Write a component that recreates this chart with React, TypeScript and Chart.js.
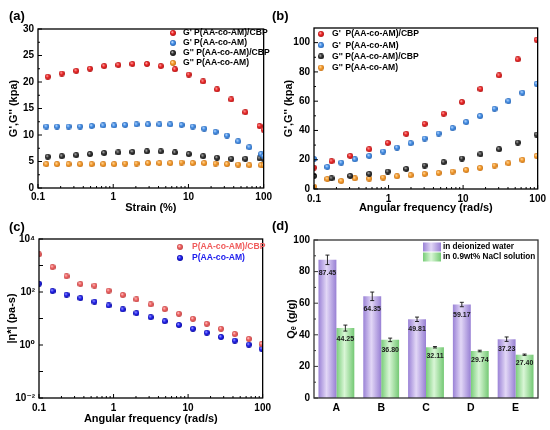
import React, { useEffect, useRef } from 'react';
import { Chart, registerables } from 'chart.js';
Chart.register(...registerables);

// ---------------- data ----------------
// (a) strain sweep
const strainA1 = [0.135, 0.207, 0.322, 0.491, 0.758, 1.17, 1.8, 2.81, 4.29, 6.62, 10.1, 15.7, 24.0, 37.1, 57.1, 88.1, 100];
const gpCbpA = [21.0, 21.6, 22.1, 22.5, 23.0, 23.2, 23.4, 23.4, 23.0, 22.4, 21.4, 20.1, 18.6, 16.7, 14.3, 11.7, 11.0];
const gppCbpA = [5.9, 6.0, 6.2, 6.4, 6.6, 6.7, 6.8, 6.9, 6.9, 6.7, 6.4, 6.0, 5.7, 5.5, 5.5, 5.6, 5.5];
const strainA2 = [0.129, 0.179, 0.255, 0.363, 0.517, 0.736, 1.03, 1.44, 2.04, 2.9, 4.12, 5.74, 8.09, 11.4, 16.2, 22.9, 32.5, 45.8, 64.5, 92.7, 100];
const gpA = [11.6, 11.6, 11.6, 11.6, 11.7, 11.8, 11.8, 11.9, 12.0, 12.0, 12.0, 12.0, 11.9, 11.6, 11.2, 10.6, 9.9, 8.8, 7.7, 6.4, 6.0];
const gppA = [4.5, 4.5, 4.5, 4.5, 4.5, 4.5, 4.5, 4.6, 4.6, 4.7, 4.7, 4.7, 4.8, 4.7, 4.7, 4.6, 4.5, 4.4, 4.3, 4.3, 4.3];

// (b) frequency sweep
const freqB1 = [0.1, 0.172, 0.306, 0.55, 0.977, 1.73, 3.05, 5.48, 9.64, 17.1, 30.4, 54.1, 97];
const gpCbpB = [14.6, 19.0, 22.6, 27.2, 31.5, 37.7, 44.5, 51.4, 59.4, 68.3, 77.6, 88.6, 102];
const gppCbpB = [8.9, 7.3, 8.9, 10.3, 11.9, 13.7, 16.0, 18.3, 20.8, 23.7, 27.2, 31.7, 37.2];
const freqB2 = [0.1, 0.151, 0.232, 0.353, 0.55, 0.846, 1.3, 1.98, 3.05, 4.7, 7.23, 11.0, 16.9, 26.4, 40.5, 62.4, 97];
const gpB = [20.5, 15.1, 18.0, 20.3, 22.6, 25.6, 28.3, 31.3, 34.5, 37.9, 41.6, 45.7, 49.8, 54.8, 60.0, 65.8, 71.9];
const gppB = [1.6, 6.8, 5.5, 7.3, 7.1, 7.8, 8.7, 9.4, 10.3, 11.0, 11.9, 13.0, 14.4, 16.0, 17.6, 19.9, 22.6];

// (c) complex viscosity
const freqC = [0.1, 0.152, 0.234, 0.359, 0.555, 0.859, 1.33, 2.03, 3.15, 4.87, 7.53, 11.6, 17.8, 27.6, 42.3, 65.3, 97];
const etaCbp = [2630, 870, 392, 200, 174, 112, 77, 52.5, 34, 22.5, 15, 9.7, 6.3, 4.1, 2.6, 1.7, 1.09];
const etaPlain = [207, 109, 79, 59, 43, 31, 22, 15.9, 11.2, 7.9, 5.7, 4.1, 2.9, 2.0, 1.46, 1.03, 0.72];

// (d) swelling ratio
const samples = ['A', 'B', 'C', 'D', 'E'];
const qWater = [87.45, 64.35, 49.81, 59.17, 37.23];
const qNacl = [44.25, 36.8, 32.11, 29.74, 27.4];
const errWater = [3.0, 2.7, 1.4, 1.4, 1.4];
const errNacl = [1.9, 1.1, 0.45, 0.5, 0.4];

// tick labels
const logXTickLabels = ['0.1', '1', '10', '100'];
const logYDecades = [-2, -1, 0, 1, 2, 3, 4];

// ---------------- helpers ----------------
const FONT = '"Liberation Sans", Arial, Helvetica, "DejaVu Sans", sans-serif';
const tickFont = { family: FONT, size: 10, weight: 'bold' as const };
const titleFont = { family: FONT, size: 11, weight: 'bold' as const, lineHeight: 1.2 };

const SUP: Record<string, string> = { '-': '\u207B', '0': '\u2070', '1': '\u00B9', '2': '\u00B2', '3': '\u00B3', '4': '\u2074', '5': '\u2075', '6': '\u2076', '7': '\u2077', '8': '\u2078', '9': '\u2079' };
const sup = (n: number) => String(n).split('').map((ch) => SUP[ch] || ch).join('');

const zip = (xs: number[], ys: number[]) => xs.map((x, i) => ({ x, y: ys[i] }));

function logTickValues() {
  const vals: number[] = [];
  for (let e = -1; e <= 1; e++) for (let s = 1; s <= 9; s++) vals.push(+(s * Math.pow(10, e)).toPrecision(6));
  vals.push(100);
  return vals;
}
const isPow10 = (v: number) => Math.abs(Math.log10(v) - Math.round(Math.log10(v))) < 1e-6;

function ball(base: string, light: string, dark: string, d = 6) {
  const c = document.createElement('canvas');
  c.width = d;
  c.height = d;
  const g2 = c.getContext('2d')!;
  const r = d / 2;
  const g = g2.createRadialGradient(r * 0.7, r * 0.65, 0.2, r, r, r);
  g.addColorStop(0, light);
  g.addColorStop(0.45, base);
  g.addColorStop(1, dark);
  g2.fillStyle = g;
  g2.beginPath();
  g2.arc(r, r, r, 0, Math.PI * 2);
  g2.fill();
  return c;
}

function drawTicks(ctx: any, scale: any, axis: 'x' | 'y', a: any, kind: string, dir: number) {
  const vals: number[] = scale.ticks.map((t: any) => t.value);
  const marks: { v: number; len: number }[] = [];
  if (kind === 'log') vals.forEach((v) => marks.push({ v, len: isPow10(v) ? 4 : 2 }));
  else if (kind === 'decade') vals.forEach((v) => marks.push({ v, len: 4 }));
  else if (kind === 'linear') {
    vals.forEach((v, i) => {
      marks.push({ v, len: 4 });
      if (i < vals.length - 1) marks.push({ v: (v + vals[i + 1]) / 2, len: 2 });
    });
  }
  ctx.beginPath();
  marks.forEach(({ v, len }) => {
    const p = scale.getPixelForValue(v);
    if (axis === 'x') {
      if (p < a.left - 0.5 || p > a.right + 0.5) return;
      ctx.moveTo(p, a.bottom);
      ctx.lineTo(p, a.bottom - len * dir);
    } else {
      if (p < a.top - 0.5 || p > a.bottom + 0.5) return;
      ctx.moveTo(a.left, p);
      ctx.lineTo(a.left + len * dir, p);
    }
  });
  ctx.stroke();
}

const decoPlugin = {
  id: 'deco',
  afterDraw(chart: any, _args: any, o: any) {
    const ctx = chart.ctx;
    const a = chart.chartArea;
    ctx.save();
    ctx.strokeStyle = o.frameColor || '#000';
    ctx.lineWidth = 1;
    if (o.xKind) drawTicks(ctx, chart.scales.x, 'x', a, o.xKind, 1);
    if (o.yKind) drawTicks(ctx, chart.scales.y, 'y', a, o.yKind, 1);
    ctx.lineWidth = o.frameWidth || 1.3;
    ctx.strokeRect(a.left, a.top, a.right - a.left, a.bottom - a.top);
    // legend
    const L = o.legend;
    if (L) {
      ctx.font = `bold ${L.size}px ${FONT}`;
      ctx.textBaseline = 'middle';
      ctx.textAlign = 'left';
      chart.data.datasets.forEach((ds: any, i: number) => {
        const y = L.y0 + i * L.dy;
        if (L.swatch) {
          const [c0, c1, c2] = L.swatch[i];
          const g = ctx.createLinearGradient(L.sx, 0, L.sx + L.sw, 0);
          g.addColorStop(0, c0);
          g.addColorStop(0.45, c1);
          g.addColorStop(1, c2);
          ctx.fillStyle = g;
          ctx.fillRect(L.sx, y - L.sh / 2, L.sw, L.sh);
        } else {
          const img = ds.pointStyle;
          ctx.drawImage(img, L.mx - img.width / 2, y - img.height / 2);
        }
        ctx.fillStyle = (L.colors && L.colors[i]) || '#000';
        ctx.fillText(ds.label, L.tx, y);
      });
    }
    ctx.restore();
  },
};

const barDecoPlugin = {
  id: 'barDeco',
  afterDatasetsDraw(chart: any, _args: any, o: any) {
    const ctx = chart.ctx;
    const ys = chart.scales.y;
    ctx.save();
    chart.data.datasets.forEach((ds: any, di: number) => {
      const meta = chart.getDatasetMeta(di);
      const errs = o.errs[di];
      meta.data.forEach((el: any, i: number) => {
        const v = ds.data[i];
        const e = errs[i];
        const yt = ys.getPixelForValue(v + e);
        const yb = ys.getPixelForValue(v - e);
        ctx.strokeStyle = '#111';
        ctx.lineWidth = 0.9;
        ctx.beginPath();
        ctx.moveTo(el.x, yt);
        ctx.lineTo(el.x, yb);
        ctx.moveTo(el.x - 2, yt);
        ctx.lineTo(el.x + 2, yt);
        ctx.moveTo(el.x - 2, yb);
        ctx.lineTo(el.x + 2, yb);
        ctx.stroke();
        ctx.fillStyle = '#1a1a1a';
        ctx.font = `bold 7px ${FONT}`;
        ctx.textAlign = 'center';
        ctx.textBaseline = 'middle';
        ctx.fillText(v.toFixed(2), el.x, yb + 8);
      });
    });
    ctx.restore();
  },
};

function logXAxis(title: string, height: number, tickPad: number, titlePad: number) {
  const vals = logTickValues();
  return {
    type: 'logarithmic',
    min: 0.1,
    max: 100,
    afterBuildTicks: (s: any) => {
      s.ticks = vals.map((v) => ({ value: v }));
    },
    afterFit: (s: any) => {
      s.height = height;
    },
    grid: { display: false, drawTicks: false },
    border: { display: false },
    ticks: {
      autoSkip: false,
      maxRotation: 0,
      padding: tickPad,
      color: '#000',
      font: tickFont,
      callback: (v: any) => {
        const idx = [0.1, 1, 10, 100].findIndex((m) => Math.abs(m - v) < 1e-9);
        return idx >= 0 ? logXTickLabels[idx] : '';
      },
    },
    title: { display: true, text: title, color: '#000', font: titleFont, padding: { top: 0, bottom: titlePad } },
  };
}

function yTitle(text: string, pad: number) {
  return { display: true, text, color: '#000', font: titleFont, padding: { top: pad, bottom: 0 } };
}

const baseOpts = (pad: any) => ({
  responsive: false,
  animation: false,
  events: [],
  layout: { padding: pad },
});

function configA(balls: any) {
  return {
    type: 'scatter',
    data: {
      datasets: [
        { label: "G' P(AA-co-AM)/CBP", data: zip(strainA1, gpCbpA), pointStyle: balls.red, pointRadius: 3 },
        { label: "G' P(AA-co-AM)", data: zip(strainA2, gpA), pointStyle: balls.blue, pointRadius: 3 },
        { label: "G'' P(AA-co-AM)/CBP", data: zip(strainA1, gppCbpA), pointStyle: balls.black, pointRadius: 3 },
        { label: "G'' P(AA-co-AM)", data: zip(strainA2, gppA), pointStyle: balls.orange, pointRadius: 3 },
      ],
    },
    options: {
      ...baseOpts({ left: 0, right: 8, top: 29, bottom: 0 }),
      plugins: {
        legend: { display: false },
        tooltip: { enabled: false },
        deco: { xKind: 'log', yKind: 'linear', legend: { mx: 173, tx: 183, y0: 33, dy: 10, size: 8.6 } },
      },
      scales: {
        x: logXAxis('Strain (%)', 27, 3, 0),
        y: {
          min: 0,
          max: 30,
          afterFit: (s: any) => {
            s.width = 38;
          },
          grid: { display: false, drawTicks: false },
          border: { display: false },
          ticks: { stepSize: 5, padding: 4, color: '#000', font: tickFont },
          title: yTitle("G',G'' (kpa)", 7),
        },
      },
    },
    plugins: [decoPlugin],
  };
}

function configB(balls: any) {
  return {
    type: 'scatter',
    data: {
      datasets: [
        { label: "G'  P(AA-co-AM)/CBP", data: zip(freqB1, gpCbpB), pointStyle: balls.red, pointRadius: 3 },
        { label: "G'  P(AA-co-AM)", data: zip(freqB2, gpB), pointStyle: balls.blue, pointRadius: 3 },
        { label: "G'' P(AA-co-AM)/CBP", data: zip(freqB1, gppCbpB), pointStyle: balls.black, pointRadius: 3 },
        { label: "G'' P(AA-co-AM)", data: zip(freqB2, gppB), pointStyle: balls.orange, pointRadius: 3 },
      ],
    },
    options: {
      ...baseOpts({ left: 0, right: 12, top: 28, bottom: 0 }),
      plugins: {
        legend: { display: false },
        tooltip: { enabled: false },
        deco: { xKind: 'log', yKind: 'linear', legend: { mx: 46, tx: 57, y0: 34, dy: 11.2, size: 8.6 } },
      },
      scales: {
        x: logXAxis('Angular frequency (rad/s)', 26, 4, 0),
        y: {
          min: 0,
          max: 110,
          afterFit: (s: any) => {
            s.width = 39;
          },
          grid: { display: false, drawTicks: false },
          border: { display: false },
          ticks: { stepSize: 20, includeBounds: false, padding: 4, color: '#000', font: tickFont },
          title: yTitle("G',G'' (kpa)", 7),
        },
      },
    },
    plugins: [decoPlugin],
  };
}

function configC(balls: any) {
  return {
    type: 'scatter',
    data: {
      datasets: [
        { label: 'P(AA-co-AM)/CBP', data: zip(freqC, etaCbp), pointStyle: balls.salmon, pointRadius: 3 },
        { label: 'P(AA-co-AM)', data: zip(freqC, etaPlain), pointStyle: balls.deepBlue, pointRadius: 3 },
      ],
    },
    options: {
      ...baseOpts({ left: 0, right: 8, top: 24, bottom: 0 }),
      plugins: {
        legend: { display: false },
        tooltip: { enabled: false },
        deco: {
          xKind: 'log',
          yKind: 'decade',
          legend: { mx: 180, tx: 192, y0: 32, dy: 11, size: 8.6, colors: ['#f05a5a', '#2020ee'] },
        },
      },
      scales: {
        x: logXAxis('Angular frequency (rad/s)', 32, 4, 4),
        y: {
          type: 'logarithmic',
          min: 0.01,
          max: 10000,
          afterBuildTicks: (s: any) => {
            s.ticks = logYDecades.map((e) => ({ value: Math.pow(10, e) }));
          },
          afterFit: (s: any) => {
            s.width = 39;
          },
          grid: { display: false, drawTicks: false },
          border: { display: false },
          ticks: {
            autoSkip: false,
            padding: 4,
            color: '#000',
            font: tickFont,
            callback: (v: any) => {
              const e = Math.round(Math.log10(v));
              return e % 2 === 0 ? '10' + sup(e) : '';
            },
          },
          title: yTitle('|\u03B7*| (pa-s)', 5),
        },
      },
    },
    plugins: [decoPlugin],
  };
}

const PURPLE = ['#9a82d6', '#e2d7f6', '#9880d4'];
const GREEN = ['#78cd78', '#d9f6d6', '#74c974'];

function barGradient(stops: string[], flat: string) {
  return (c: any) => {
    const chart = c.chart;
    const xs = chart.scales && chart.scales.x;
    if (!chart.chartArea || !xs || c.dataIndex == null) return flat;
    const cw = xs.width / samples.length;
    const bw = (cw * 0.8) / 2;
    const center = xs.getPixelForValue(c.dataIndex);
    const left = c.datasetIndex === 0 ? center - bw : center;
    const g = chart.ctx.createLinearGradient(left, 0, left + bw, 0);
    g.addColorStop(0, stops[0]);
    g.addColorStop(0.45, stops[1]);
    g.addColorStop(1, stops[2]);
    return g;
  };
}

function configD() {
  return {
    type: 'bar',
    data: {
      labels: samples,
      datasets: [
        { label: 'in deionized water', data: qWater, backgroundColor: barGradient(PURPLE, '#c0b0ea'), categoryPercentage: 0.8, barPercentage: 1.0 },
        { label: 'in 0.9wt% NaCl solution', data: qNacl, backgroundColor: barGradient(GREEN, '#aee6ab'), categoryPercentage: 0.8, barPercentage: 1.0 },
      ],
    },
    options: {
      ...baseOpts({ left: 0, right: 12, top: 25, bottom: 0 }),
      plugins: {
        legend: { display: false },
        tooltip: { enabled: false },
        deco: {
          yKind: 'linear',
          frameColor: '#333',
          legend: { swatch: [PURPLE, GREEN], sx: 148, sw: 18, sh: 9, tx: 168, y0: 32, dy: 10, size: 8.2 },
        },
        barDeco: { errs: [errWater, errNacl] },
      },
      scales: {
        x: {
          afterFit: (s: any) => {
            s.height = 32;
          },
          grid: { display: false, drawTicks: false },
          border: { display: false },
          ticks: { padding: 4, color: '#000', font: { ...tickFont, size: 10.5 } },
        },
        y: {
          min: 0,
          max: 100,
          afterFit: (s: any) => {
            s.width = 39;
          },
          grid: { display: false, drawTicks: false },
          border: { display: false },
          ticks: { stepSize: 20, padding: 4, color: '#000', font: tickFont },
          title: yTitle('Q\u2091 (g/g)', 10),
        },
      },
    },
    plugins: [decoPlugin, barDecoPlugin],
  };
}

function Panel({ make, left, top }: { make: () => any; left: number; top: number }) {
  const ref = useRef<HTMLCanvasElement>(null);
  useEffect(() => {
    const chart = new Chart(ref.current as HTMLCanvasElement, make());
    return () => chart.destroy();
  }, []);
  return (
    <canvas
      ref={ref}
      width={275}
      height={215}
      style={{ position: 'absolute', left, top, width: 275, height: 215 }}
    />
  );
}

let ballCache: any = null;
function getBalls() {
  if (!ballCache) {
    ballCache = {
      red: ball('#ee2b2b', '#ffb4b4', '#b01212'),
      blue: ball('#4a94ea', '#cfe4ff', '#2563b3'),
      black: ball('#3a3a3a', '#c4c4c4', '#111111'),
      orange: ball('#f7a033', '#ffe2b5', '#c87010'),
      salmon: ball('#f06464', '#ffd2d2', '#c24343'),
      deepBlue: ball('#2a2af2', '#a8a8ff', '#0000a0'),
    };
  }
  return ballCache;
}

const labelStyle = (left: number, top: number): React.CSSProperties => ({
  position: 'absolute',
  left,
  top,
  font: `bold 13px ${FONT}`,
  lineHeight: '15px',
  color: '#000',
});

export default function App() {
  return (
    <div style={{ position: 'fixed', left: 0, top: 0, width: 550, height: 430, background: '#fff', overflow: 'hidden' }}>
      <Panel make={() => configA(getBalls())} left={0} top={0} />
      <Panel make={() => configB(getBalls())} left={275} top={0} />
      <Panel make={() => configC(getBalls())} left={0} top={215} />
      <Panel make={() => configD()} left={275} top={215} />
      <div style={labelStyle(9, 8)}>(a)</div>
      <div style={labelStyle(272, 8)}>(b)</div>
      <div style={labelStyle(9, 219)}>(c)</div>
      <div style={labelStyle(272, 218)}>(d)</div>
    </div>
  );
}
